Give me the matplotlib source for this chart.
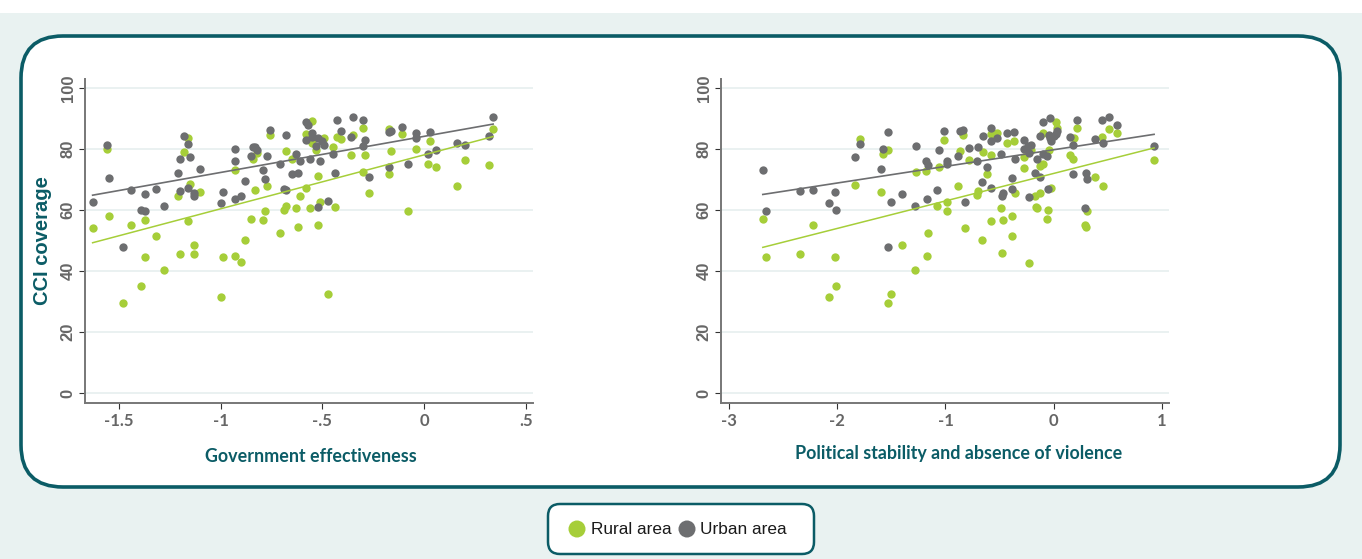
"""
CCI coverage vs governance indicators (rural / urban), two-panel scatter.
Writes out.png
"""
import matplotlib
matplotlib.use('Agg')
import matplotlib.pyplot as plt
import numpy as np
from matplotlib.patches import FancyBboxPatch, Rectangle

GREEN = '#a6ce39'
GREY = '#6d6e70'
TEAL = '#0b5c66'
BG = '#e9f2f1'
TICK_GREY = '#666666'

# --- data: government effectiveness panel ---
ge_urban_x = [-1.63, -1.56, -1.55, -1.48, -1.44, -1.39, -1.37, -1.37, -1.32, -1.28,
              -1.21, -1.20, -1.20, -1.18, -1.16, -1.16, -1.15, -1.13, -1.13, -1.10,
              -1.00, -0.99, -0.93, -0.93, -0.93, -0.90, -0.88, -0.85, -0.84, -0.83,
              -0.82, -0.79, -0.78, -0.77, -0.76, -0.71, -0.69, -0.68, -0.68, -0.63,
              -0.65, -0.62, -0.61, -0.58, -0.58, -0.57, -0.56, -0.55, -0.55, -0.53,
              -0.52, -0.52, -0.51, -0.50, -0.49, -0.47, -0.45, -0.44, -0.43, -0.41,
              -0.36, -0.35, -0.30, -0.30, -0.29, -0.27, -0.17, -0.17, -0.16, -0.11,
              -0.08, -0.04, -0.04, 0.02, 0.03, 0.06, 0.16, 0.20, 0.32, 0.34]
ge_urban_y = [62.7, 81.3, 70.6, 47.8, 66.8, 60.0, 65.5, 59.6, 66.9, 61.4,
              72.1, 76.8, 66.3, 84.3, 81.7, 67.4, 77.4, 65.6, 64.7, 73.6,
              62.5, 66.1, 80.1, 76.3, 63.7, 64.6, 69.5, 77.8, 80.7, 80.7,
              79.9, 73.2, 70.2, 77.9, 86.3, 75.1, 66.9, 84.7, 66.8, 78.5,
              71.9, 72.1, 76.3, 89.0, 82.9, 87.8, 76.8, 85.5, 83.9, 81.1,
              83.6, 61.0, 76.3, 82.8, 81.3, 63.1, 78.6, 72.3, 89.6, 86.1,
              83.9, 90.5, 89.6, 81.1, 82.9, 70.9, 74.2, 85.6, 86.1, 87.2,
              75.3, 85.5, 83.8, 78.4, 85.7, 79.8, 82.0, 81.3, 84.4, 90.6]
ge_rural_x = [-1.63, -1.56, -1.55, -1.48, -1.44, -1.39, -1.37, -1.37, -1.32, -1.28,
              -1.21, -1.20, -1.18, -1.16, -1.16, -1.15, -1.13, -1.13, -1.10, -1.00,
              -0.99, -0.93, -0.93, -0.90, -0.88, -0.85, -0.84, -0.82, -0.83, -0.79,
              -0.78, -0.77, -0.76, -0.71, -0.69, -0.68, -0.68, -0.65, -0.63, -0.62,
              -0.61, -0.58, -0.58, -0.56, -0.55, -0.55, -0.53, -0.52, -0.52, -0.51,
              -0.49, -0.47, -0.45, -0.44, -0.43, -0.41, -0.36, -0.35, -0.30, -0.30,
              -0.29, -0.27, -0.17, -0.17, -0.16, -0.11, -0.08, -0.04, 0.02, 0.03,
              0.06, 0.16, 0.20, 0.32, 0.34]
ge_rural_y = [54.1, 80.1, 58.0, 29.6, 55.2, 35.2, 56.7, 44.8, 51.6, 40.5,
              64.6, 45.5, 79.0, 83.6, 56.5, 68.5, 48.6, 45.8, 66.0, 31.4,
              44.6, 73.2, 45.1, 43.0, 50.2, 57.2, 76.8, 78.7, 66.6, 56.9,
              59.7, 68.1, 84.7, 52.6, 60.1, 61.5, 79.6, 76.8, 60.9, 54.4,
              64.8, 67.4, 85.0, 60.8, 89.2, 82.1, 79.8, 71.3, 55.2, 62.8,
              83.7, 32.7, 80.9, 61.2, 83.9, 83.4, 78.0, 84.6, 86.9, 72.7,
              78.0, 65.6, 86.8, 71.9, 79.6, 84.9, 59.7, 80.0, 75.2, 82.7,
              74.2, 68.1, 76.5, 74.9, 86.7]

# --- data: political stability panel ---
ps_urban_x = [-2.69, -2.66, -2.35, -2.23, -2.08, -2.02, -2.01, -1.84, -1.79, -1.60,
              -1.58, -1.53, -1.53, -1.50, -1.40, -1.28, -1.27, -1.18, -1.17, -1.16,
              -1.08, -1.06, -1.01, -0.99, -0.99, -0.88, -0.87, -0.84, -0.82, -0.78,
              -0.71, -0.70, -0.66, -0.65, -0.62, -0.58, -0.58, -0.58, -0.52, -0.49,
              -0.48, -0.47, -0.43, -0.38, -0.38, -0.37, -0.36, -0.27, -0.27, -0.24,
              -0.23, -0.23, -0.21, -0.17, -0.15, -0.13, -0.13, -0.10, -0.10, -0.06,
              -0.05, -0.04, -0.03, -0.03, -0.02, 0.00, 0.02, 0.03, 0.15, 0.18,
              0.18, 0.22, 0.29, 0.30, 0.31, 0.38, 0.45, 0.46, 0.51, 0.59, 0.93]
ps_urban_y = [73.2, 59.6, 66.3, 66.7, 62.5, 66.1, 60.0, 77.4, 81.7, 73.6,
              80.0, 85.6, 47.8, 62.8, 65.5, 61.4, 81.2, 76.3, 63.7, 75.0,
              66.8, 79.8, 86.0, 76.3, 75.2, 77.8, 86.1, 86.3, 62.7, 80.5,
              76.3, 80.9, 69.4, 84.3, 74.2, 87.1, 82.7, 67.3, 83.8, 78.4,
              64.8, 65.7, 85.4, 70.6, 66.9, 85.6, 76.7, 83.1, 80.2, 81.1,
              64.5, 78.7, 81.3, 72.3, 76.7, 71.0, 84.4, 88.9, 78.4, 77.8,
              67.1, 84.7, 90.4, 83.8, 82.8, 84.2, 84.9, 86.1, 83.9, 71.9,
              81.3, 89.6, 60.9, 72.2, 70.2, 83.5, 89.6, 81.9, 90.7, 87.8, 81.2]
ps_rural_x = [-2.69, -2.66, -2.35, -2.23, -2.08, -2.02, -2.01, -1.84, -1.79, -1.60,
              -1.58, -1.53, -1.53, -1.50, -1.40, -1.28, -1.27, -1.18, -1.17, -1.16,
              -1.08, -1.06, -1.01, -0.99, -0.99, -0.88, -0.87, -0.84, -0.82, -0.78,
              -0.71, -0.70, -0.66, -0.65, -0.62, -0.58, -0.58, -0.58, -0.52, -0.49,
              -0.48, -0.47, -0.43, -0.38, -0.38, -0.37, -0.36, -0.27, -0.27, -0.23,
              -0.21, -0.17, -0.16, -0.15, -0.13, -0.13, -0.10, -0.10, -0.06, -0.05,
              -0.04, -0.02, 0.02, 0.03, 0.15, 0.18, 0.19, 0.22, 0.29, 0.30,
              0.31, 0.38, 0.45, 0.46, 0.51, 0.59, 0.93]
ps_rural_y = [57.0, 44.8, 45.5, 55.1, 31.4, 44.6, 35.2, 68.3, 83.5, 66.0,
              78.4, 79.8, 29.6, 32.6, 48.6, 40.5, 72.6, 73.0, 45.0, 52.6,
              61.5, 74.2, 83.2, 62.7, 59.7, 68.0, 79.6, 84.7, 54.1, 76.6,
              64.9, 66.4, 50.3, 79.0, 71.9, 85.0, 78.0, 56.4, 85.4, 60.8,
              45.9, 56.8, 82.1, 58.0, 51.6, 82.6, 65.8, 73.9, 77.4, 42.8,
              79.8, 64.7, 61.2, 60.7, 65.6, 74.6, 75.2, 85.2, 57.2, 60.1,
              79.8, 67.3, 89.1, 86.9, 78.1, 76.7, 83.7, 86.9, 55.3, 54.4,
              59.7, 71.0, 84.0, 68.1, 86.7, 85.2, 76.4]

y_ticks = [0, 20, 40, 60, 80, 100]
ge_ticks = [-1.5, -1, -0.5, 0, 0.5]
ge_labels = ['-1.5', '-1', '-.5', '0', '.5']
ps_ticks = [-3, -2, -1, 0, 1]
ps_labels = ['-3', '-2', '-1', '0', '1']

W, H = 1362, 559
fig = plt.figure(figsize=(W / 100, H / 100), dpi=100)

# background layer in pixel coordinates
bg = fig.add_axes([0, 0, 1, 1], zorder=-10)
bg.set_xlim(0, W); bg.set_ylim(H, 0); bg.axis('off')
bg.add_patch(Rectangle((0, 13), W, H - 13, color=BG, lw=0))
bg.add_patch(FancyBboxPatch((21, 36), 1319, 451,
                            boxstyle='round,pad=0,rounding_size=42',
                            fc='white', ec=TEAL, lw=2.6))
bg.add_patch(FancyBboxPatch((548, 504), 266, 50,
                            boxstyle='round,pad=0,rounding_size=12',
                            fc='white', ec=TEAL, lw=1.8))


def px_axes(x0, x1, y0, y1):
    return fig.add_axes([x0 / W, 1 - y1 / H, (x1 - x0) / W, (y1 - y0) / H])


def panel(ax, rx, ry, ux, uy, xlim, ticks, labels):
    ax.set_xlim(*xlim); ax.set_ylim(-3.3, 102.95)
    for x, y, c in ((rx, ry, GREEN), (ux, uy, GREY)):
        ax.scatter(x, y, s=36, color=c, lw=0, zorder=3)
    for x, y, c, lw in ((rx, ry, GREEN, 1.1), (ux, uy, GREY, 1.2)):
        x = np.asarray(x); y = np.asarray(y)
        b, a = np.polyfit(x, y, 1)
        xs = np.array([x.min(), x.max()])
        ax.plot(xs, a + b * xs, color=c, lw=lw, zorder=4)
    ax.set_yticks(y_ticks)
    ax.set_yticklabels([str(t) for t in y_ticks], rotation=90, va='center',
                       fontsize=12, fontweight='bold', color=TICK_GREY,
                       family='Liberation Sans')
    ax.set_xticks(ticks)
    ax.set_xticklabels(labels, fontsize=12, fontweight='bold', color=TICK_GREY,
                       family='Lato')
    ax.tick_params(length=4, width=0.8, color='#333333', pad=3)
    ax.grid(axis='y', color='#e4eded', lw=1.1)
    ax.set_axisbelow(True)
    for s in ('top', 'right'):
        ax.spines[s].set_visible(False)
    for s in ('left', 'bottom'):
        ax.spines[s].set_color('#777777'); ax.spines[s].set_linewidth(1.4)
    ax.set_facecolor('none')


ax1 = px_axes(85.3, 533, 79.3, 403.3)
panel(ax1, ge_rural_x, ge_rural_y, ge_urban_x, ge_urban_y,
      (-1.666, 0.536), ge_ticks, ge_labels)
ax2 = px_axes(721.3, 1169, 79.3, 403.3)
panel(ax2, ps_rural_x, ps_rural_y, ps_urban_x, ps_urban_y,
      (-3.074, 1.068), ps_ticks, ps_labels)

# axis titles
fig.text(311 / W, 1 - 456 / H, 'Government effectiveness', ha='center', va='center',
         fontsize=12.9, fontweight='bold', color=TEAL, family='Lato')
fig.text(959 / W, 1 - 453 / H, 'Political stability and absence of violence',
         ha='center', va='center', fontsize=12.9, fontweight='bold', color=TEAL,
         family='Lato')
fig.text(42 / W, 1 - 241 / H, 'CCI coverage', rotation=90, ha='center', va='center',
         fontsize=14.5, fontweight='bold', color=TEAL, family='Liberation Sans')

# legend
bg.scatter([577, 687], [529, 529], s=150, color=[GREEN, GREY], lw=0)
bg.text(591, 530, 'Rural area', va='center', ha='left', fontsize=12.4,
        family='Liberation Sans', color='#1a1a1a')
bg.text(700, 530, 'Urban area', va='center', ha='left', fontsize=12.4,
        family='Liberation Sans', color='#1a1a1a')

fig.savefig('out.png', dpi=100)
